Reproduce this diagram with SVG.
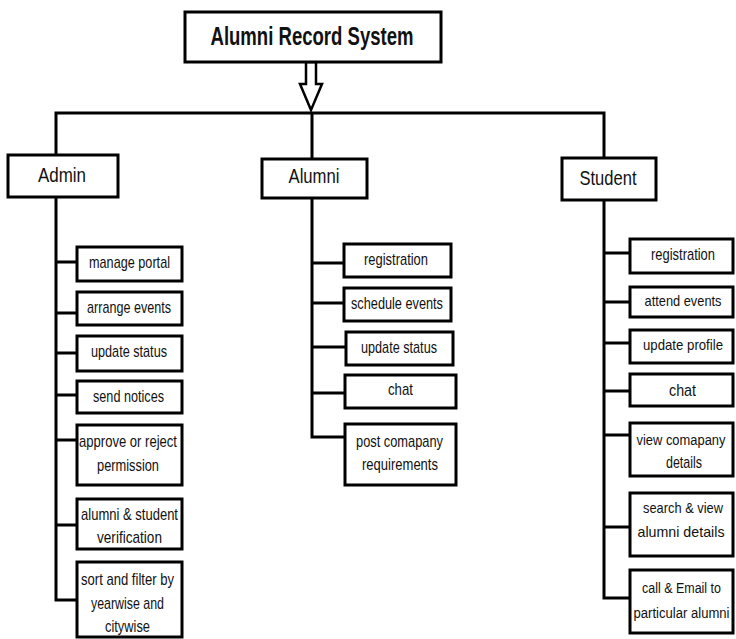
<svg xmlns="http://www.w3.org/2000/svg" width="736" height="639" viewBox="0 0 736 639">
<style>
.box{fill:#fff;stroke:#000;stroke-width:3}
.ln{fill:none;stroke:#000;stroke-width:3;stroke-linecap:square}
text{font-family:"Liberation Sans",Arial,sans-serif;fill:#111;text-anchor:middle}
.t{font-size:25px;font-weight:bold}
.h{font-size:21px}
.i{font-size:17px}
.s{font-size:15px}
.x{font-size:14px}
</style>
<rect width="736" height="639" fill="#fff"/>
<g id="connectors">
<polygon points="306,62 316,62 316,84 322,84 311,110 300,84 306,84" fill="#fff" stroke="#000" stroke-width="2.5" stroke-linejoin="miter"/>
<path class="ln" d="M56,113 H604 M56,113 V155 M312,113 V159 M604,113 V158"/>
<path class="ln" d="M56,197 V600 H77 M56,262 H77 M56,313 H77 M56,353 H77 M56,395 H77 M56,440 H77 M56,525 H77"/>
<path class="ln" d="M312,198 V437 H345 M312,263 H344 M312,303 H344 M312,347 H346 M312,393 H345"/>
<path class="ln" d="M604,200 V598 H630 M604,253 H630 M604,302 H630 M604,343 H630 M604,391 H630 M604,435 H630 M604,527 H630"/>
</g>
<g id="root"><rect class="box" x="185" y="12" width="256" height="50"/><text class="t" x="312" y="45" textLength="203" lengthAdjust="spacingAndGlyphs">Alumni Record System</text></g>
<g id="admin"><rect class="box" x="8" y="155" width="110" height="42"/><text class="h" x="62" y="182" textLength="48" lengthAdjust="spacingAndGlyphs">Admin</text></g>
<g id="alumni"><rect class="box" x="262" y="159" width="105" height="39"/><text class="h" x="314" y="183" textLength="51" lengthAdjust="spacingAndGlyphs">Alumni</text></g>
<g id="student"><rect class="box" x="562" y="158" width="94" height="42"/><text class="h" x="608" y="185" textLength="57" lengthAdjust="spacingAndGlyphs">Student</text></g>

<g id="admin-manage-portal"><rect class="box" x="77" y="247" width="105" height="34"/><text class="i" x="129.5" y="268" textLength="81" lengthAdjust="spacingAndGlyphs">manage portal</text></g>
<g id="admin-arrange-events"><rect class="box" x="77" y="292" width="105" height="33"/><text class="i" x="129" y="313" textLength="84" lengthAdjust="spacingAndGlyphs">arrange events</text></g>
<g id="admin-update-status"><rect class="box" x="77" y="336" width="105" height="35"/><text class="i" x="129" y="357" textLength="76" lengthAdjust="spacingAndGlyphs">update status</text></g>
<g id="admin-send-notices"><rect class="box" x="77" y="381" width="105" height="32"/><text class="i" x="128.5" y="402" textLength="71" lengthAdjust="spacingAndGlyphs">send notices</text></g>
<g id="admin-approve"><rect class="box" x="77" y="425" width="105" height="60"/><text class="i" x="128" y="447" textLength="98" lengthAdjust="spacingAndGlyphs">approve or reject</text><text class="i" x="128" y="471" textLength="62" lengthAdjust="spacingAndGlyphs">permission</text></g>
<g id="admin-verification"><rect class="box" x="77" y="499" width="105" height="50"/><text class="i" x="129.5" y="520" textLength="97" lengthAdjust="spacingAndGlyphs">alumni &amp; student</text><text class="i" x="129.5" y="543" textLength="65" lengthAdjust="spacingAndGlyphs">verification</text></g>
<g id="admin-sort-filter"><rect class="box" x="77" y="562" width="105" height="75"/><text class="i" x="127.5" y="585" textLength="93" lengthAdjust="spacingAndGlyphs">sort and filter by</text><text class="i" x="127.5" y="609" textLength="73" lengthAdjust="spacingAndGlyphs">yearwise and</text><text class="i" x="127.5" y="632" textLength="45" lengthAdjust="spacingAndGlyphs">citywise</text></g>

<g id="alumni-registration"><rect class="box" x="344" y="244" width="107" height="33"/><text class="i" x="396" y="265" textLength="64" lengthAdjust="spacingAndGlyphs">registration</text></g>
<g id="alumni-schedule-events"><rect class="box" x="344" y="288" width="107" height="33"/><text class="i" x="397" y="309" textLength="92" lengthAdjust="spacingAndGlyphs">schedule events</text></g>
<g id="alumni-update-status"><rect class="box" x="346" y="332" width="107" height="33"/><text class="i" x="399" y="353" textLength="76" lengthAdjust="spacingAndGlyphs">update status</text></g>
<g id="alumni-chat"><rect class="box" x="345" y="375" width="111" height="33"/><text class="i" x="400.5" y="395" textLength="25" lengthAdjust="spacingAndGlyphs">chat</text></g>
<g id="alumni-post-requirements"><rect class="box" x="345" y="424" width="111" height="61"/><text class="i" x="399.5" y="447" textLength="87" lengthAdjust="spacingAndGlyphs">post comapany</text><text class="i" x="400" y="470" textLength="76" lengthAdjust="spacingAndGlyphs">requirements</text></g>

<g id="student-registration"><rect class="box" x="630" y="239" width="103" height="34"/><text class="i" x="683" y="260" textLength="64" lengthAdjust="spacingAndGlyphs">registration</text></g>
<g id="student-attend-events"><rect class="box" x="630" y="287" width="103" height="30"/><text class="s" x="683" y="306" textLength="77" lengthAdjust="spacingAndGlyphs">attend events</text></g>
<g id="student-update-profile"><rect class="box" x="630" y="330" width="103" height="33"/><text class="s" x="683" y="350" textLength="80" lengthAdjust="spacingAndGlyphs">update profile</text></g>
<g id="student-chat"><rect class="box" x="630" y="374" width="103" height="32"/><text class="i" x="682.5" y="396" textLength="27" lengthAdjust="spacingAndGlyphs">chat</text></g>
<g id="student-view-company"><rect class="box" x="630" y="423" width="103" height="53"/><text class="x" x="681" y="445" textLength="89" lengthAdjust="spacingAndGlyphs">view comapany</text><text class="i" x="684" y="468" textLength="36" lengthAdjust="spacingAndGlyphs">details</text></g>
<g id="student-search-alumni"><rect class="box" x="630" y="493" width="103" height="63"/><text class="s" x="683" y="513" textLength="80" lengthAdjust="spacingAndGlyphs">search &amp; view</text><text class="s" x="681" y="537" textLength="87" lengthAdjust="spacingAndGlyphs">alumni details</text></g>
<g id="student-call-email"><rect class="box" x="630" y="570" width="103" height="63"/><text class="x" x="681.5" y="593" textLength="79" lengthAdjust="spacingAndGlyphs">call &amp; Email to</text><text class="x" x="681.5" y="618" textLength="96" lengthAdjust="spacingAndGlyphs">particular alumni</text></g>
</svg>
